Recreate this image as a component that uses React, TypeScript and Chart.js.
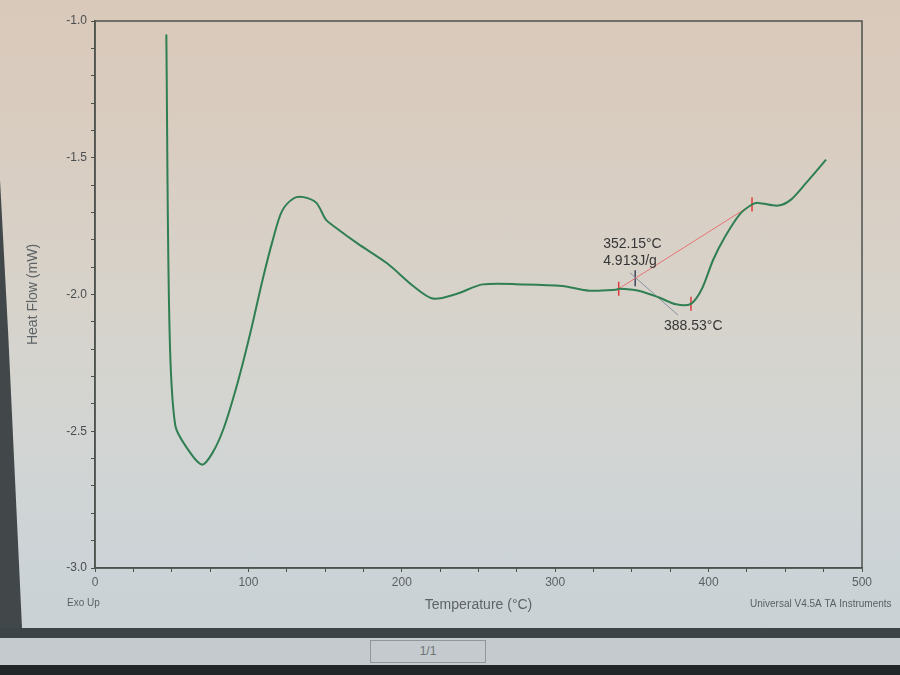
import React, { useEffect, useRef } from "react";
import { Chart, registerables } from "chart.js";

Chart.register(...registerables);

// Main DSC curve (Temperature °C, Heat Flow mW)
const temperature = [46.5, 48.5, 52.3, 61.0, 69.8, 76.5, 83.9, 93.3, 101.2, 109.3, 115.8, 121.9, 129.6, 136.0, 144.3, 150.4, 156.6, 171.3, 190.4, 207.4, 220.3, 235.6, 252.8, 278.7, 304.6, 322.1, 339.4, 341.4, 354.4, 367.7, 378.8, 388.5, 395.5, 403.0, 410.6, 420.3, 428.3, 432.5, 445.3, 453.5, 463.3, 476.6];
const heatFlow = [-1.049, -2.104, -2.478, -2.570, -2.622, -2.580, -2.489, -2.316, -2.142, -1.945, -1.803, -1.695, -1.648, -1.644, -1.665, -1.725, -1.754, -1.814, -1.886, -1.969, -2.015, -1.998, -1.963, -1.963, -1.969, -1.986, -1.983, -1.979, -1.986, -2.011, -2.036, -2.034, -1.981, -1.873, -1.790, -1.707, -1.671, -1.665, -1.675, -1.654, -1.594, -1.507];

// Integration baseline (red)
const baselineT = [341.4, 428.3];
const baselineHF = [-1.979, -1.671];

// Onset tangent (gray)
const tangentT = [348.8, 380.0];
const tangentHF = [-1.921, -2.075];

// Red limit / peak markers
const markerT = [341.4, 388.5, 428.3];
const markerHF = [-1.979, -2.034, -1.671];

// Onset marker
const onsetT = [352.15];
const onsetHF = [-1.941];

const onsetLabels = ["352.15°C", "4.913J/g"];
const peakLabel = "388.53°C";

const xTickLabels = [0, 100, 200, 300, 400, 500];
const yTickLabels = [-1.0, -1.5, -2.0, -2.5, -3.0];

const xTitle = "Temperature (°C)";
const yTitle = "Heat Flow (mW)";
const exoLabel = "Exo Up";
const softwareLabel = "Universal V4.5A TA Instruments";

const FONT = "'Liberation Sans', Arial, sans-serif";

const toXY = (xs: number[], ys: number[]) => xs.map((x, i) => ({ x, y: ys[i] }));

export default function App() {
  const canvasRef = useRef<HTMLCanvasElement | null>(null);

  useEffect(() => {
    document.body.style.margin = "0";
    const canvas = canvasRef.current;
    if (!canvas) return;

    const framePlugin = {
      id: "framePlugin",
      beforeDatasetsDraw(chart: any) {
        const { ctx, chartArea } = chart;
        ctx.save();
        ctx.strokeStyle = "#4c524e";
        ctx.lineWidth = 1.5;
        ctx.strokeRect(chartArea.left, chartArea.top, chartArea.right - chartArea.left, chartArea.bottom - chartArea.top);
        ctx.restore();
      },
      afterDraw(chart: any) {
        const { ctx, chartArea, scales } = chart;
        const xs = scales.x;
        const ys = scales.y;
        ctx.save();
        ctx.fillStyle = "#363636";
        ctx.font = `14px ${FONT}`;
        ctx.textBaseline = "middle";
        ctx.textAlign = "left";
        const ox = xs.getPixelForValue(onsetT[0]);
        const oy = ys.getPixelForValue(onsetHF[0]);
        ctx.fillText(onsetLabels[0], ox - 32, oy - 34);
        ctx.fillText(onsetLabels[1], ox - 32, oy - 17);
        const px = xs.getPixelForValue(markerT[1]);
        const py = ys.getPixelForValue(markerHF[1]);
        ctx.fillText(peakLabel, px - 27, py + 22);
        ctx.fillStyle = "#5a5f62";
        ctx.font = `10px ${FONT}`;
        ctx.fillText(exoLabel, chartArea.left - 28, 603);
        ctx.fillText(softwareLabel, chartArea.right - 112, 604);
        ctx.restore();
      },
    };

    const chart = new Chart(canvas, {
      type: "scatter",
      data: {
        datasets: [
          {
            data: toXY(temperature, heatFlow),
            showLine: true,
            borderColor: "#2f7f52",
            borderWidth: 2,
            pointRadius: 0,
            tension: 0.3,
          },
          {
            data: toXY(baselineT, baselineHF),
            showLine: true,
            borderColor: "rgba(232,100,100,0.85)",
            borderWidth: 1,
            pointRadius: 0,
          },
          {
            data: toXY(tangentT, tangentHF),
            showLine: true,
            borderColor: "#8592a0",
            borderWidth: 1,
            pointRadius: 0,
          },
          {
            data: toXY(markerT, markerHF),
            showLine: false,
            pointStyle: "line",
            rotation: 90,
            pointRadius: 7,
            borderColor: "#e03a3a",
            borderWidth: 1.5,
          } as any,
          {
            data: toXY(onsetT, onsetHF),
            showLine: false,
            pointStyle: "line",
            rotation: 90,
            pointRadius: 8,
            borderColor: "#3c4660",
            borderWidth: 1.5,
          } as any,
        ],
      },
      options: {
        animation: false,
        responsive: false,
        maintainAspectRatio: false,
        layout: { padding: { top: 21, right: 38, left: 0, bottom: 0 } },
        plugins: {
          legend: { display: false },
          tooltip: { enabled: false },
        },
        scales: {
          x: {
            type: "linear",
            min: 0,
            max: 500,
            afterFit(scale: any) {
              scale.height = 628 - 568;
            },
            grid: { display: true, drawOnChartArea: false, tickLength: 4, color: "#4c524e" },
            border: { display: true, color: "#4c524e", width: 1.5 },
            ticks: {
              stepSize: 25,
              autoSkip: false,
              maxRotation: 0,
              padding: 3,
              color: "#5a5f62",
              font: { family: FONT, size: 12 },
              callback: (v: any) => (xTickLabels.includes(Number(v)) ? String(v) : ""),
            },
            title: {
              display: true,
              text: xTitle,
              color: "#5e6366",
              font: { family: FONT, size: 14 },
              padding: { top: 0, bottom: 14 },
            },
          },
          y: {
            type: "linear",
            min: -3,
            max: -1,
            afterFit(scale: any) {
              scale.width = 95;
            },
            grid: { display: true, drawOnChartArea: false, tickLength: 4, color: "#4c524e" },
            border: { display: true, color: "#4c524e", width: 1.5 },
            ticks: {
              stepSize: 0.1,
              autoSkip: false,
              padding: 4,
              color: "#4a4e50",
              font: { family: FONT, size: 12 },
              callback: (v: any) => {
                const r = Math.round(Number(v) * 10) / 10;
                return yTickLabels.some((t) => Math.abs(t - r) < 1e-6) ? r.toFixed(1) : "";
              },
            },
            title: {
              display: true,
              text: yTitle,
              color: "#5e6366",
              font: { family: FONT, size: 14 },
              padding: { top: 25, bottom: 0 },
            },
          },
        },
      },
      plugins: [framePlugin],
    });

    return () => chart.destroy();
  }, []);

  return (
    <div
      style={{
        position: "fixed",
        left: 0,
        top: 0,
        width: 900,
        height: 675,
        overflow: "hidden",
        background:
          "linear-gradient(180deg, #d9c9ba 0%, #d9cdc1 22%, #d7d3cb 45%, #d2d5d3 65%, #ccd3d7 85%, #c9d0d4 100%)",
      }}
    >
      <div
        style={{
          position: "absolute",
          left: 0,
          top: 0,
          width: 24,
          height: 630,
          background: "#42474a",
          clipPath: "polygon(0 180px, 8px 330px, 22px 628px, 0 628px)",
        }}
      />
      <canvas
        ref={canvasRef}
        width={900}
        height={628}
        style={{ position: "absolute", left: 0, top: 0, width: 900, height: 628 }}
      />
      <div style={{ position: "absolute", left: 0, top: 628, width: 900, height: 10, background: "#3d4447" }} />
      <div style={{ position: "absolute", left: 0, top: 638, width: 900, height: 27, background: "#c4cacd" }} />
      <div
        style={{
          position: "absolute",
          left: 370,
          top: 640,
          width: 116,
          height: 23,
          border: "1px solid #8e979b",
          boxSizing: "border-box",
          color: "#6d7478",
          font: `12px ${FONT}`,
          lineHeight: "21px",
          textAlign: "center",
        }}
      >
        1/1
      </div>
      <div style={{ position: "absolute", left: 0, top: 665, width: 900, height: 10, background: "#212528" }} />
    </div>
  );
}
